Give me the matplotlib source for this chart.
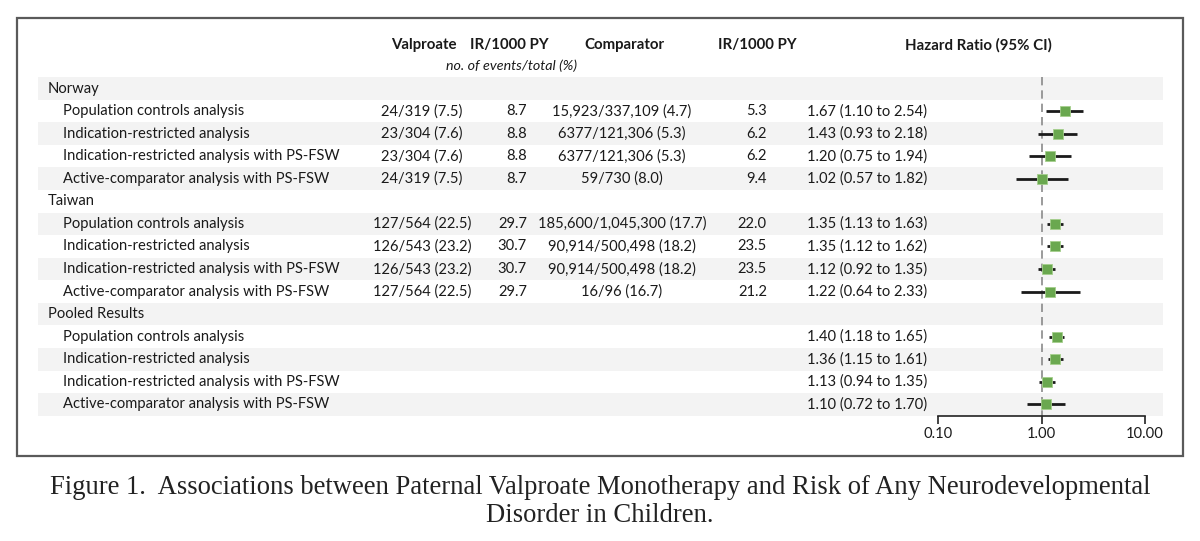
import matplotlib
matplotlib.use("Agg")
import matplotlib.pyplot as plt
from matplotlib.patches import Rectangle

# ---------------- data ----------------
groups = ["Norway", "Taiwan", "Pooled Results"]
analyses = ["Population controls analysis",
            "Indication-restricted analysis",
            "Indication-restricted analysis with PS-FSW",
            "Active-comparator analysis with PS-FSW"]
valproate = ["24/319 (7.5)", "23/304 (7.6)", "23/304 (7.6)", "24/319 (7.5)",
             "127/564 (22.5)", "126/543 (23.2)", "126/543 (23.2)", "127/564 (22.5)",
             "", "", "", ""]
ir_valproate = ["8.7", "8.8", "8.8", "8.7", "29.7", "30.7", "30.7", "29.7", "", "", "", ""]
comparator = ["15,923/337,109 (4.7)", "6377/121,306 (5.3)", "6377/121,306 (5.3)", "59/730 (8.0)",
              "185,600/1,045,300 (17.7)", "90,914/500,498 (18.2)", "90,914/500,498 (18.2)",
              "16/96 (16.7)", "", "", "", ""]
ir_comparator = ["5.3", "6.2", "6.2", "9.4", "22.0", "23.5", "23.5", "21.2", "", "", "", ""]
hr = [1.67, 1.43, 1.20, 1.02, 1.35, 1.35, 1.12, 1.22, 1.40, 1.36, 1.13, 1.10]
ci_low = [1.10, 0.93, 0.75, 0.57, 1.13, 1.12, 0.92, 0.64, 1.18, 1.15, 0.94, 0.72]
ci_high = [2.54, 2.18, 1.94, 1.82, 1.63, 1.62, 1.35, 2.33, 1.65, 1.61, 1.35, 1.70]
tick_values = [0.1, 1.0, 10.0]
tick_labels = ["0.10", "1.00", "10.00"]
headers = ["Valproate", "IR/1000 PY", "Comparator", "IR/1000 PY", "Hazard Ratio (95% CI)"]
subheader = "no. of events/total (%)"
caption_lines = ["Figure 1.  Associations between Paternal Valproate Monotherapy and Risk of Any Neurodevelopmental",
                 "Disorder in Children."]

# ---------------- layout ----------------
W, H = 1200, 541
FONT = "Lato"
FS = 10.6
TXT = "#1a1a1a"
y0, dy = 88.5, 22.57

fig = plt.figure(figsize=(W / 100, H / 100), dpi=100)
ax = fig.add_axes([0, 0, 1, 1])
ax.set_xlim(0, W)
ax.set_ylim(H, 0)
ax.axis("off")

# border
ax.add_patch(Rectangle((17, 18), 1166, 438, fill=False, edgecolor="#5a5a5a", lw=1.6, zorder=1))

row_y = []
i = 0
k = 0
for g in groups:
    y = y0 + i * dy
    if i % 2 == 0:
        ax.add_patch(Rectangle((38, y - dy / 2), 1125, dy, facecolor="#f3f3f3", edgecolor="none", zorder=0))
    ax.text(48, y, g, ha="left", va="center", fontsize=FS, family=FONT, color=TXT)
    i += 1
    for a in analyses:
        y = y0 + i * dy
        if i % 2 == 0:
            ax.add_patch(Rectangle((38, y - dy / 2), 1125, dy, facecolor="#f3f3f3", edgecolor="none", zorder=0))
        ax.text(63, y, a, ha="left", va="center", fontsize=FS, family=FONT, color=TXT)
        ax.text(422, y, valproate[k], ha="center", va="center", fontsize=FS, family=FONT, color=TXT)
        ax.text(527, y, ir_valproate[k], ha="right", va="center", fontsize=FS, family=FONT, color=TXT)
        ax.text(622, y, comparator[k], ha="center", va="center", fontsize=FS, family=FONT, color=TXT)
        ax.text(767, y, ir_comparator[k], ha="right", va="center", fontsize=FS, family=FONT, color=TXT)
        ax.text(807, y, f"{hr[k]:.2f} ({ci_low[k]:.2f} to {ci_high[k]:.2f})",
                ha="left", va="center", fontsize=FS, family=FONT, color=TXT)
        row_y.append(y)
        k += 1
        i += 1

# headers
hx = [424, 509, 624, 757, 978]
for x, h in zip(hx, headers):
    ax.text(x, 45, h, ha="center", va="center", fontsize=FS + 0.2, family=FONT, weight="bold", color=TXT)
ax.text(511, 66, subheader, ha="center", va="center", fontsize=FS - 0.3, family=FONT,
        style="italic", color=TXT)

# caption
for cy, line in zip([487, 515], caption_lines):
    ax.text(600, cy, line, ha="center", va="center", fontsize=19.2, family="Liberation Serif",
            color="#222222")

# ---------------- forest ----------------
top_px, bot_px = 77, 416
x_left, x_right = 938, 1145
ax2 = fig.add_axes([x_left / W, 1 - bot_px / H, (x_right - x_left) / W, (bot_px - top_px) / H])
ax2.patch.set_alpha(0)
ax2.set_xscale("log")
ax2.set_xlim(tick_values[0], tick_values[-1])
ax2.set_ylim(bot_px, top_px)
for s in ["top", "left", "right"]:
    ax2.spines[s].set_visible(False)
ax2.spines["bottom"].set_color("#222222")
ax2.spines["bottom"].set_linewidth(1.2)
ax2.set_yticks([])
ax2.set_xticks(tick_values)
ax2.set_xticklabels(tick_labels, fontsize=FS, family=FONT, color=TXT)
ax2.xaxis.set_minor_locator(matplotlib.ticker.NullLocator())
ax2.tick_params(axis="x", direction="out", length=6, width=1.2, color="#222222", pad=2)

ax2.plot([1, 1], [top_px, bot_px], color="#8a8a8a", lw=1.2, ls=(0, (5, 3)), zorder=1, clip_on=False)
ax2.hlines(row_y, ci_low, ci_high, color="#1a1a1a", lw=2.0, zorder=2)
ax2.plot(hr, row_y, "s", ms=7.5, mfc="#6aa84f", mec="#a5cf8c", mew=0.6, zorder=3, ls="none")

fig.savefig("out.png", dpi=100)
